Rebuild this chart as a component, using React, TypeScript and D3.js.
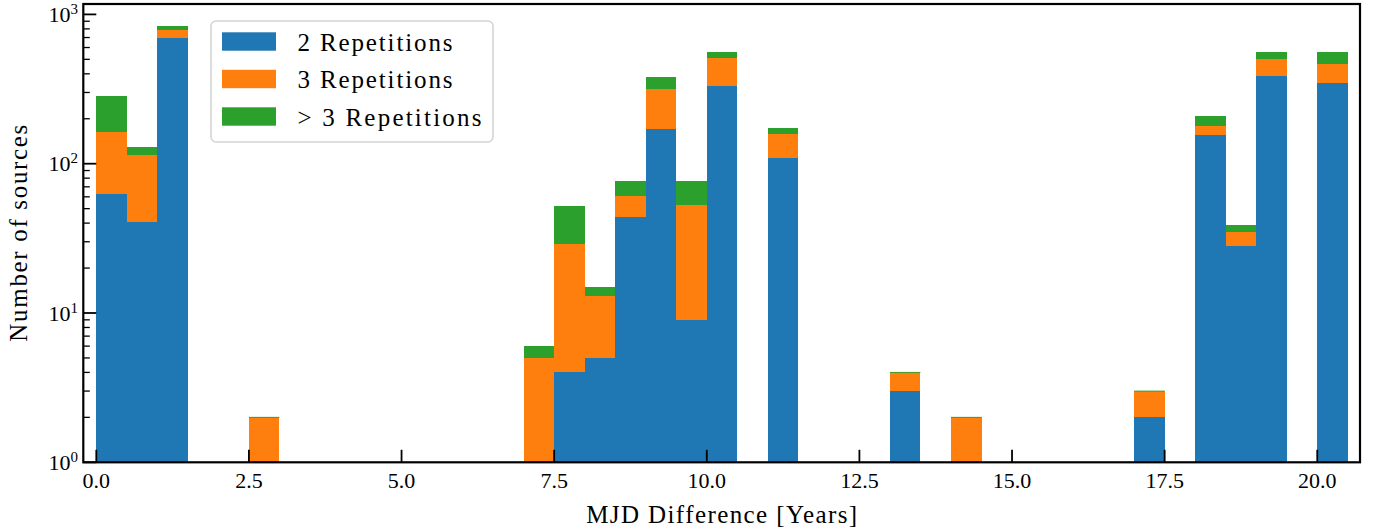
import React from "react";
import * as d3 from "d3";

// Bin edges (years): 41 bins of 0.5 years from 0 to 20.5
const binWidth = 0.5;
const binStarts = d3.range(0, 41).map((i) => i * binWidth);

// Counts per bin
const twoReps = [63, 41, 692, 0, 0, 0, 0, 0, 0, 0, 0, 0, 0, 0, 0, 4, 5, 44, 170, 9, 330, 0, 109, 0, 0, 0, 3, 0, 0, 0, 0, 0, 0, 0, 2, 0, 155, 28, 385, 0, 345];
const threeReps = [99, 73, 90, 0, 0, 2, 0, 0, 0, 0, 0, 0, 0, 0, 5, 25, 8, 17, 145, 44, 178, 0, 48, 0, 0, 0, 1, 0, 2, 0, 0, 0, 0, 0, 1, 0, 23, 7, 115, 0, 118];
const moreReps = [121, 15, 50, 0, 0, 0, 0, 0, 0, 0, 0, 0, 0, 0, 1, 23, 2, 15, 64, 23, 49, 0, 16, 0, 0, 0, 0, 0, 0, 0, 0, 0, 0, 0, 0, 0, 30, 4, 57, 0, 94];

const seriesNames = ["2 Repetitions", "3 Repetitions", "> 3 Repetitions"];
const seriesColors = ["#1f77b4", "#ff7f0e", "#2ca02c"];
const xTicks = [0, 2.5, 5, 7.5, 10, 12.5, 15, 17.5, 20];
const yMajor = [1, 10, 100, 1000];

const W = 1374;
const H = 532;
const left = 83.3;
const right = 1360;
const top = 4;
const bottom = 462.3;
const FONT = "'Liberation Serif', 'DejaVu Serif', serif";

export default function App() {
  const x = d3.scaleLinear().domain([-0.213, 20.7]).range([left, right]);
  const y = d3.scaleLog().domain([1, 1174]).range([bottom, top]);

  const series = [twoReps, threeReps, moreReps];
  const rects: React.ReactNode[] = [];
  binStarts.forEach((b, i) => {
    let base = 0;
    const total = twoReps[i] + threeReps[i] + moreReps[i];
    series.forEach((s, k) => {
      const lo = base;
      const hi = base + s[i];
      base = hi;
      if (total === 0) return;
      const x0 = x(b);
      const x1 = x(b + binWidth);
      const y0 = y(Math.max(lo, 1));
      const y1 = y(Math.max(hi, 1));
      if (hi <= 1 && lo <= 1) return;
      if (s[i] === 0) {
        if (k === 2) {
          rects.push(
            <rect key={`z${i}-${k}`} x={x0} width={x1 - x0} y={y1 - 0.5} height={1} fill={seriesColors[k]} opacity={0.9} />
          );
        }
        return;
      }
      rects.push(
        <rect
          key={`r${i}-${k}`}
          x={x0}
          width={x1 - x0}
          y={y1}
          height={Math.max(0, y0 - y1)}
          fill={seriesColors[k]}
          shapeRendering="crispEdges"
        />
      );
    });
  });

  const minor: number[] = [];
  for (let e = 0; e < 4; e++) {
    for (let m = 2; m <= 9; m++) {
      const v = m * Math.pow(10, e);
      if (v < 1174) minor.push(v);
    }
  }

  const legX = 211;
  const legY = 21;
  const rowH = 37.5;
  const legendWidths = [155, 155, 184];

  return (
    <svg width={W} height={H} style={{ position: "absolute", left: 0, top: 0, background: "#fff" }}>
      <rect x={0} y={0} width={W} height={H} fill="#fff" />
      {rects}
      {/* ticks */}
      {xTicks.map((t) => (
        <line key={`xt${t}`} x1={x(t)} x2={x(t)} y1={bottom} y2={bottom - 12.5} stroke="#000" strokeWidth={1.8} />
      ))}
      {yMajor.map((t) => (
        <line key={`yt${t}`} x1={left} x2={left + 13} y1={y(t)} y2={y(t)} stroke="#000" strokeWidth={1.8} />
      ))}
      {minor.map((t) => (
        <line key={`ym${t}`} x1={left} x2={left + 6.5} y1={y(t)} y2={y(t)} stroke="#000" strokeWidth={1.3} />
      ))}
      {/* spines */}
      <rect x={left} y={top} width={right - left} height={bottom - top} fill="none" stroke="#000" strokeWidth={2.2} />
      {/* tick labels */}
      {xTicks.map((t) => (
        <text key={`xl${t}`} x={x(t)} y={488} textAnchor="middle" fontFamily={FONT} fontSize={22} fill="#000">
          {t.toFixed(1)}
        </text>
      ))}
      {yMajor.map((t, i) => (
        <text key={`yl${t}`} x={78} y={y(t) + 7.5} textAnchor="end" fontFamily={FONT} fontSize={22} fill="#000">
          10
          <tspan dy={-8} fontSize={15}>
            {i}
          </tspan>
        </text>
      ))}
      {/* axis labels */}
      <text
        x={(left + right) / 2}
        y={523}
        textAnchor="middle"
        fontFamily={FONT}
        fontSize={25}
        fill="#000"
        textLength={271}
        lengthAdjust="spacing"
      >
        MJD Difference [Years]
      </text>
      <text
        transform={`translate(27, ${(top + bottom) / 2}) rotate(-90)`}
        textAnchor="middle"
        fontFamily={FONT}
        fontSize={25}
        fill="#000"
        textLength={217}
        lengthAdjust="spacing"
      >
        Number of sources
      </text>
      {/* legend */}
      <rect x={legX} y={legY} width={282} height={121} rx={5} ry={5} fill="#fff" fillOpacity={0.8} stroke="#d4d4d4" strokeWidth={1.6} />
      {seriesNames.map((n, k) => (
        <g key={n}>
          <rect x={222} y={legY + 11.3 + k * rowH} width={54} height={18.4} fill={seriesColors[k]} />
          <text
            x={297.5}
            y={legY + 29.8 + k * rowH}
            fontFamily={FONT}
            fontSize={25}
            fill="#000"
            textLength={legendWidths[k]}
            lengthAdjust="spacing"
          >
            {n}
          </text>
        </g>
      ))}
    </svg>
  );
}
